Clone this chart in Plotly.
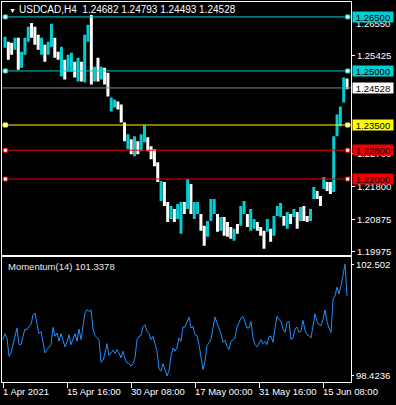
import numpy as np
import plotly.graph_objects as go

# ---------------- data ----------------
symbol_title = "USDCAD,H4  1.24682 1.24793 1.24493 1.24528"
momentum_title = "Momentum(14) 101.3378"

highs = [
    1.25948, 1.25810, 1.25782, 1.25920, 1.25920, 1.25533, 1.25920, 1.26224, 1.26334, 1.26224,
    1.26003, 1.25920, 1.25727, 1.25810, 1.26307, 1.25920, 1.25533, 1.25671, 1.25312, 1.25450,
    1.25506, 1.25257, 1.25368, 1.25257, 1.26003, 1.26279, 1.26555, 1.25119, 1.25368, 1.25119,
    1.25091, 1.24953, 1.24263, 1.24208, 1.24152, 1.24069, 1.23572, 1.23241, 1.23103, 1.23186,
    1.23048, 1.23241, 1.23490, 1.23158, 1.22910, 1.22827, 1.22467, 1.21943, 1.21915, 1.21363,
    1.21252, 1.21169, 1.21307, 1.21363, 1.21363, 1.21998, 1.21860, 1.21363, 1.21363, 1.21031,
    1.20700, 1.20838, 1.21446, 1.21446, 1.21031, 1.20948, 1.20948, 1.20810, 1.20672, 1.20617,
    1.20755, 1.21252, 1.21390, 1.21031, 1.21169, 1.20893, 1.20810, 1.20672, 1.20562, 1.20893,
    1.20617, 1.20976, 1.21252, 1.21335, 1.20976, 1.21086, 1.21031, 1.21169, 1.21086, 1.21225,
    1.21252, 1.20976, 1.21169, 1.21777, 1.21667, 1.21528, 1.22053, 1.21915, 1.21915, 1.23186,
    1.23793, 1.24014, 1.24815, 1.24793,
]
lows = [
    1.25644, 1.25312, 1.25450, 1.25589, 1.25036, 1.25091, 1.25450, 1.25810, 1.25920, 1.25727,
    1.25589, 1.25450, 1.25257, 1.25450, 1.25671, 1.25368, 1.25312, 1.24843, 1.24760, 1.24981,
    1.24981, 1.24815, 1.24705, 1.24705, 1.24677, 1.25810, 1.24622, 1.24705, 1.24705, 1.24760,
    1.24622, 1.24290, 1.23876, 1.23987, 1.23931, 1.23572, 1.23048, 1.22827, 1.22688, 1.22633,
    1.22688, 1.22771, 1.23020, 1.22771, 1.22550, 1.22357, 1.21915, 1.21390, 1.21252, 1.20810,
    1.20893, 1.20810, 1.20893, 1.20479, 1.21031, 1.21169, 1.21031, 1.20893, 1.21031, 1.20562,
    1.20147, 1.20396, 1.20838, 1.21031, 1.20534, 1.20562, 1.20424, 1.20396, 1.20341, 1.20286,
    1.20479, 1.20700, 1.21031, 1.20672, 1.20562, 1.20617, 1.20562, 1.20424, 1.20065, 1.20534,
    1.20258, 1.20424, 1.20976, 1.20948, 1.20700, 1.20617, 1.20755, 1.20948, 1.20617, 1.20838,
    1.20838, 1.20810, 1.20838, 1.21446, 1.21446, 1.21252, 1.21722, 1.21667, 1.21584, 1.21639,
    1.23186, 1.23462, 1.24125, 1.24493,
]
bar_dir = ("UDDUDUUUDD" "DUDUUDDUDU" "UDUDUUDUDU" "DDUUDDDUDU" "DUUDDDDUDD"
           "UDUUDUDUUD" "DUUUDUDDDU" "DUUDUUDDDU" "DUUUDUDUDU" "DDUUDDUDDU" "UUUD")

momentum = [
    99.746, 99.964, 99.806, 99.140, 99.261, 99.564, 99.867, 100.170, 99.564, 99.564,
    99.867, 100.133, 100.109, 100.230, 100.291, 100.655, 100.715, 100.352, 99.964, 100.049,
    99.685, 99.261, 99.382, 99.479, 99.564, 100.194, 99.867, 99.988, 99.685, 99.964,
    99.746, 99.479, 99.649, 99.928, 99.564, 99.806, 99.964, 99.685, 100.133, 99.746,
    100.170, 100.715, 100.836, 100.776, 100.836, 100.133, 99.891, 99.806, 99.746, 98.922,
    98.994, 99.261, 99.600, 99.164, 99.261, 99.358, 99.237, 99.382, 99.261, 99.079,
    99.322, 99.043, 98.898, 98.873, 98.776, 98.873, 99.079, 99.746, 99.867, 99.891,
    100.230, 100.291, 100.049, 99.964, 99.746, 99.867, 99.600, 99.322, 98.679, 98.595,
    98.873, 98.655, 98.424, 98.595, 99.140, 99.443, 99.322,
    99.443, 99.806, 99.685, 100.206, 100.206, 100.412, 100.570, 100.170, 100.230, 99.928,
    99.891, 99.564, 99.079, 98.655, 98.958, 99.528, 99.625, 99.770, 100.170, 100.570,
    100.352, 100.133, 99.964, 99.649, 99.722, 99.503, 99.382, 99.685, 99.746, 99.806,
    100.206, 100.376, 100.533, 100.594, 100.352, 100.170, 100.170, 100.412, 99.806, 99.564,
    99.479, 99.600, 99.746, 99.600, 99.685, 99.564, 99.867, 99.867, 99.649, 100.170,
    100.594, 100.473, 100.412, 100.133, 100.012, 100.376, 100.412, 99.746, 99.806, 100.133,
    100.206, 100.012, 100.049, 100.449, 100.085, 99.928, 99.891, 99.806, 100.230, 100.691,
    100.412, 100.291, 100.255, 100.473, 100.836, 100.412, 100.170, 100.012, 101.224, 101.345,
    101.660, 101.418, 101.709, 102.109, 102.502, 101.3378,
]

level_values = [1.26500, 1.25000, 1.23500, 1.22800, 1.22000]
level_labels = ["1.26500", "1.25000", "1.23500", "1.22800", "1.22000"]
bid_value = 1.24528
bid_label = "1.24528"

price_tick_vals = [1.25425, 1.22700, 1.21800, 1.20875, 1.19975]
price_tick_text = ["1.25425", "1.22700", "1.21800", "1.20875", "1.19975"]
top_price_label = "1.26550"
top_price_value = 1.26550
mom_tick_vals = [102.502, 98.4236]
mom_tick_text = ["102.502", "98.4236"]

time_tick_vals = [0, 64, 128, 192, 256, 320]
time_tick_text = ["1 Apr 2021", "15 Apr 16:00", "30 Apr 08:00", "17 May 00:00",
                  "31 May 16:00", "15 Jun 08:00"]

# ---------------- style ----------------
W, H = 396, 405
CYAN = "#00CED1"
WHITE = "#FFFFFF"
YELLOW = "#FFFF00"
RED = "#F00000"
GREY = "#778899"
BLUE = "#1E90FF"
FONT = "Liberation Sans"
level_colors = [CYAN, CYAN, YELLOW, RED, RED]

X_RANGE = [-1, 348]
PRICE_RANGE = [1.19885, 1.26914]
MOM_RANGE = [98.213, 102.756]

def py(px):
    return 1 - px / H

fig = go.Figure()

# price bars
t_price = np.linspace(2, 344, len(highs))
xu, yu, xd, yd = [], [], [], []
for t, h, l, d in zip(t_price, highs, lows, bar_dir):
    if d == "U":
        xu += [t, t, None]; yu += [l, h, None]
    else:
        xd += [t, t, None]; yd += [l, h, None]
fig.add_trace(go.Scatter(x=xd, y=yd, mode="lines", line=dict(color=WHITE, width=3),
                         xaxis="x", yaxis="y", hoverinfo="skip", showlegend=False))
fig.add_trace(go.Scatter(x=xu, y=yu, mode="lines", line=dict(color=CYAN, width=3),
                         xaxis="x", yaxis="y", hoverinfo="skip", showlegend=False))

# momentum
t_mom = np.arange(len(momentum)) * 2
fig.add_trace(go.Scatter(x=t_mom, y=momentum, mode="lines", line=dict(color=BLUE, width=1),
                         xaxis="x2", yaxis="y2", hoverinfo="skip", showlegend=False))

shapes = []
for v, c in zip(level_values, level_colors):
    shapes.append(dict(type="line", xref="x domain", yref="y", x0=0, x1=1, y0=v, y1=v,
                       line=dict(color=c, width=1), layer="above"))
shapes.append(dict(type="line", xref="x domain", yref="y", x0=0, x1=1, y0=bid_value, y1=bid_value,
                   line=dict(color=GREY, width=1), layer="above"))
for v, c in zip(level_values, level_colors):
    for xa in (2.3, 344.7):
        shapes.append(dict(type="rect", xref="x", yref="y", xsizemode="pixel", ysizemode="pixel",
                           xanchor=xa, yanchor=v, x0=-2, x1=2, y0=-2, y1=2,
                           fillcolor=WHITE, line=dict(color=c, width=1), layer="above"))

ann = []
ann.append(dict(xref="paper", yref="paper", x=6.5 / W, y=py(10.5), xanchor="left", yanchor="middle",
                text="▼", showarrow=False, font=dict(color=WHITE, size=7, family=FONT)))
ann.append(dict(xref="paper", yref="paper", x=17 / W, y=py(10), xanchor="left", yanchor="middle",
                text=symbol_title, showarrow=False, font=dict(color=WHITE, size=10, family=FONT)))
ann.append(dict(xref="paper", yref="paper", x=6 / W, y=py(267.5), xanchor="left", yanchor="middle",
                text=momentum_title, showarrow=False, font=dict(color="#F2EAE0", size=9.5, family=FONT)))
ann.append(dict(xref="paper", yref="y", x=354 / W, y=top_price_value, yshift=-8, xanchor="left",
                yanchor="middle", text=top_price_label, showarrow=False,
                font=dict(color=WHITE, size=9.5, family=FONT)))
for v, lab, c in zip(level_values, level_labels, level_colors):
    ann.append(dict(xref="paper", yref="y", x=352 / W, y=v, xanchor="left", yanchor="middle",
                    text=lab, showarrow=False, bgcolor=c, width=40, height=10, borderpad=0,
                    font=dict(color="black", size=9.5, family=FONT)))
ann.append(dict(xref="paper", yref="y", x=352 / W, y=bid_value, xanchor="left", yanchor="middle",
                text=bid_label, showarrow=False, bgcolor=WHITE, width=40, height=10, borderpad=0,
                font=dict(color="black", size=9.5, family=FONT)))
for tv, tt in zip(time_tick_vals, time_tick_text):
    ann.append(dict(xref="x2", yref="paper", x=tv, y=py(393), xanchor="left", yanchor="middle",
                    xshift=-2, text=tt, showarrow=False, font=dict(color=WHITE, size=9.5, family=FONT)))

axis_common = dict(showgrid=False, zeroline=False, showline=True, linecolor=WHITE, linewidth=1,
                   mirror=True)
fig.update_layout(
    width=W, height=H, margin=dict(l=0, r=0, t=0, b=0),
    paper_bgcolor="black", plot_bgcolor="black", showlegend=False,
    xaxis=dict(domain=[2 / W, 351 / W], range=X_RANGE, anchor="y", showticklabels=False,
               ticks="", **axis_common),
    yaxis=dict(domain=[py(256.5), py(2)], range=PRICE_RANGE, anchor="x", side="right",
               tickvals=price_tick_vals, ticktext=price_tick_text, ticks="outside", ticklen=3,
               tickcolor=WHITE, tickfont=dict(color=WHITE, size=9.5, family=FONT), **axis_common),
    xaxis2=dict(domain=[2 / W, 351 / W], range=X_RANGE, anchor="y2", showticklabels=False,
                tickvals=time_tick_vals, ticks="outside", ticklen=5, tickcolor=WHITE, **axis_common),
    yaxis2=dict(domain=[py(383.5), py(258.5)], range=MOM_RANGE, anchor="x2", side="right",
                tickvals=mom_tick_vals, ticktext=mom_tick_text, ticks="outside", ticklen=2,
                tickcolor=WHITE, tickfont=dict(color=WHITE, size=9.5, family=FONT), **axis_common),
    shapes=shapes, annotations=ann,
)

fig.write_html("out.html")
